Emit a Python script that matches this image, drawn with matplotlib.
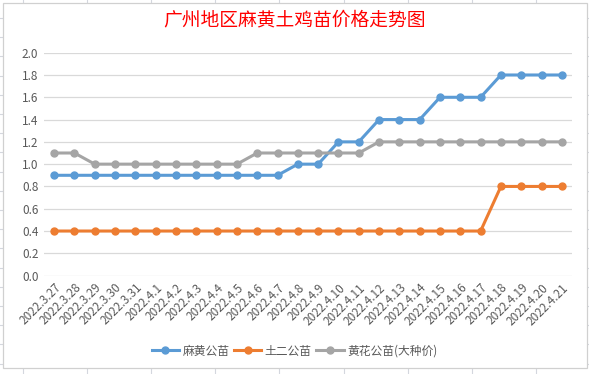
import matplotlib
matplotlib.use("Agg")
import matplotlib.pyplot as plt
import numpy as np
from matplotlib.patches import Rectangle

plt.rcParams["font.family"] = ["Noto Sans CJK SC", "DejaVu Sans"]

dates = ["2022.3.27", "2022.3.28", "2022.3.29", "2022.3.30", "2022.3.31",
         "2022.4.1", "2022.4.2", "2022.4.3", "2022.4.4", "2022.4.5",
         "2022.4.6", "2022.4.7", "2022.4.8", "2022.4.9", "2022.4.10",
         "2022.4.11", "2022.4.12", "2022.4.13", "2022.4.14", "2022.4.15",
         "2022.4.16", "2022.4.17", "2022.4.18", "2022.4.19", "2022.4.20",
         "2022.4.21"]
mahuang = [0.9, 0.9, 0.9, 0.9, 0.9, 0.9, 0.9, 0.9, 0.9, 0.9, 0.9, 0.9,
           1.0, 1.0, 1.2, 1.2, 1.4, 1.4, 1.4, 1.6, 1.6, 1.6, 1.8, 1.8, 1.8, 1.8]
tuer = [0.4] * 22 + [0.8, 0.8, 0.8, 0.8]
huanghua = [1.1, 1.1, 1.0, 1.0, 1.0, 1.0, 1.0, 1.0, 1.0, 1.0, 1.1, 1.1,
            1.1, 1.1, 1.1, 1.1, 1.2, 1.2, 1.2, 1.2, 1.2, 1.2, 1.2, 1.2, 1.2, 1.2]
series = [("麻黄公苗", mahuang, "#5B9BD5"),
          ("土二公苗", tuer, "#ED7D31"),
          ("黄花公苗(大种价)", huanghua, "#A5A5A5")]

W, H = 589, 374
fig = plt.figure(figsize=(W / 100, H / 100), dpi=100)

# spreadsheet cells behind the chart
bg = fig.add_axes([0, 0, 1, 1])
bg.set_xlim(0, W); bg.set_ylim(H, 0)
bg.set_xticks(np.arange(23, W, 64.1)); bg.set_yticks(np.arange(18, H, 19.2))
bg.grid(True, color="#D4D7DE", lw=0.8)
bg.tick_params(length=0, labelbottom=False, labelleft=False)
for s in bg.spines.values():
    s.set_visible(False)
bg.add_patch(Rectangle((2.5, 2.5), 584, 365, facecolor="white",
                       edgecolor="#D0D0D0", lw=0.9, zorder=3))

ax = fig.add_axes([44 / W, 1 - 275.6 / H, 528 / W, 222.9 / H])
ax.set_facecolor("none")
x = np.arange(len(dates))
for name, vals, col in series:
    ax.plot(x, vals, "-o", color=col, lw=2.2, ms=5, label=name, zorder=3)

ax.set_xlim(-0.5, len(dates) - 0.5)
ax.set_ylim(0, 2.0)
ax.set_yticks(np.arange(0, 2.01, 0.2))
ax.set_yticklabels([f"{v:.1f}" for v in np.arange(0, 2.01, 0.2)])
ax.set_xticks(x)
ax.set_xticklabels(dates, rotation=45, ha="right", rotation_mode="anchor")
ax.tick_params(length=0, labelsize=8.5, labelcolor="#595959", pad=4)
ax.grid(axis="y", color="#D9D9D9", lw=0.9)
ax.set_axisbelow(True)
for s in ax.spines.values():
    s.set_visible(False)

fig.text(0.5, 1 - 20 / H, "广州地区麻黄土鸡苗价格走势图", color="red",
         fontsize=13.5, ha="center", va="center")
fig.legend(loc="center", bbox_to_anchor=(0.5, 1 - 351 / H), ncol=3,
           frameon=False, fontsize=8.5, handlelength=2.3, columnspacing=0.4,
           handletextpad=0.3, labelcolor="#595959")

fig.savefig("out.png", dpi=100)
